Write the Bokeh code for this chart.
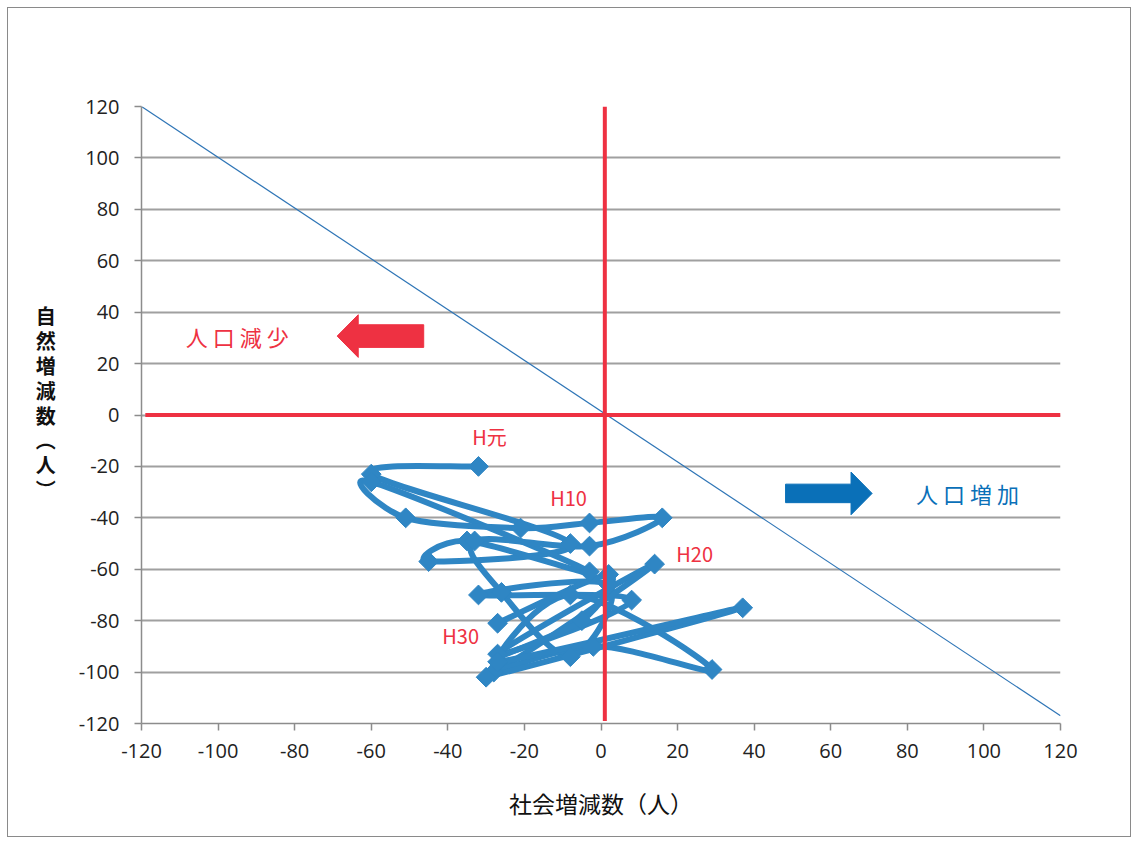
from bokeh.plotting import figure
from bokeh.models import FixedTicker, ColumnDataSource, InlineStyleSheet
from bokeh.core.properties import value
from bokeh.embed import file_html
from bokeh.resources import INLINE

# ---- data ----
years = ["H元"] + ["H%d" % i for i in range(2, 31)]
social = [-32, -60, -8, -45, -35, -3, -60, -51, -21, -3,
          16, -3, -33, -26, -8, 2, -32, 8, -27, 14,
          -28, -8, 29, -2, -30, 37, -27, -5, 2, -27]
natural = [-20, -23, -50, -57, -49, -61, -26, -40, -44, -42,
           -40, -51, -49, -69, -94, -66, -70, -72, -93, -58,
           -100, -70, -99, -90, -102, -75, -96, -80, -62, -81]
labelled_years = ["H元", "H10", "H20", "H30"]
ticks = list(range(-120, 121, 20))
tick_labels = {t: str(t) for t in ticks}
balance_x = [-120, 120]
balance_y = [120, -117]
x_title = "社会増減数（人）"
y_title = "自\n然\n増\n減\n数\n︵\n人\n︶\n　"

JP = "Noto Sans CJK JP"
BLUE = "#2F86C4"
RED = "#EE3142"
DARK_BLUE = "#0A70B8"
W, H = 1136, 842

p = figure(width=W, height=H, x_range=(-120, 120), y_range=(-120, 120),
           output_backend="svg", toolbar_location=None,
           min_border_left=141, min_border_right=W - 1060,
           min_border_top=106, min_border_bottom=H - 723)
p.stylesheets = [InlineStyleSheet(css=(
    ":host { position: relative; }"
    ":host::after { content: ''; position: absolute; left: 7px; top: 7px;"
    " right: 5px; bottom: 5px; border: 1px solid #8a8a8a;"
    " pointer-events: none; z-index: 100; }"))]
p.outline_line_color = None
p.background_fill_color = "white"
p.border_fill_color = "white"

for ax in (p.xaxis[0], p.yaxis[0]):
    ax.ticker = FixedTicker(ticks=ticks)
    ax.major_label_overrides = tick_labels
    ax.axis_line_color = "#8c8c8c"
    ax.axis_line_width = 1.5
    ax.major_tick_line_color = "#8c8c8c"
    ax.major_tick_line_width = 1.5
    ax.major_tick_in = 0
    ax.major_tick_out = 7
    ax.minor_tick_line_color = None
    ax.major_label_text_font = "Open Sans"
    ax.major_label_text_font_size = "20px"
    ax.major_label_text_color = "#222222"
    ax.axis_label_text_font = JP
    ax.axis_label_text_color = "#111111"
p.xaxis.major_label_standoff = 13
p.yaxis.major_label_standoff = 15

p.xaxis.axis_label = x_title
p.xaxis.axis_label_text_font_size = "23px"
p.xaxis.axis_label_text_font_style = "normal"
p.xaxis.axis_label_standoff = 25

p.yaxis.axis_label = y_title
p.yaxis.axis_label_orientation = "horizontal"
p.yaxis.axis_label_text_font_size = "20px"
p.yaxis.axis_label_text_font_style = "bold"
p.yaxis.axis_label_text_line_height = 0.86
p.yaxis.axis_label_standoff = 20

p.xgrid.grid_line_color = None
p.ygrid.grid_line_color = "#a0a0a0"
p.ygrid.grid_line_width = 2

# balance line (natural + social = 0)
p.line(balance_x, balance_y, line_color="#2E75B6", line_width=1.2)

# smoothed series (Excel-like smooth line)
n = len(social)
bx0, by0, bx1, by1, cx0, cy0, cx1, cy1 = ([] for _ in range(8))
for i in range(n - 1):
    pm = i - 1 if i > 0 else i
    pp = i + 2 if i + 2 < n else i + 1
    bx0.append(social[i]); by0.append(natural[i])
    bx1.append(social[i + 1]); by1.append(natural[i + 1])
    cx0.append(social[i] + (social[i + 1] - social[pm]) / 6)
    cy0.append(natural[i] + (natural[i + 1] - natural[pm]) / 6)
    cx1.append(social[i + 1] - (social[pp] - social[i]) / 6)
    cy1.append(natural[i + 1] - (natural[pp] - natural[i]) / 6)
p.bezier(x0=bx0, y0=by0, x1=bx1, y1=by1, cx0=cx0, cy0=cy0, cx1=cx1, cy1=cy1,
         line_color=BLUE, line_width=6)
p.scatter(social, natural, marker="square", angle=0.785398, size=14,
          fill_color=BLUE, line_color=BLUE)

# red axes through origin
p.line([-119, 120], [0, 0], line_color=RED, line_width=4)
p.line([1, 1], [-119, 120], line_color=RED, line_width=4)

# year labels
offsets = {"H元": (11, -30), "H10": (-21, -25), "H20": (40, -11), "H30": (-37, 12)}
lx, ly, lt, ox, oy = [], [], [], [], []
for yname in labelled_years:
    k = years.index(yname)
    lx.append(social[k]); ly.append(natural[k]); lt.append(yname)
    ox.append(offsets[yname][0]); oy.append(offsets[yname][1])
src = ColumnDataSource(dict(x=lx, y=ly, t=lt, ox=ox, oy=oy))
p.text(x="x", y="y", text="t", x_offset="ox", y_offset="oy", source=src,
       text_color=RED, text_font=value(JP), text_font_size="20px",
       text_align="center", text_baseline="middle")

# arrows
yc = 30.7
p.patch([-46.3, -63.4, -63.4, -68.9, -63.4, -63.4, -46.3],
        [yc + 4.4, yc + 4.4, yc + 8.3, yc, yc - 8.3, yc - 4.4, yc - 4.4],
        fill_color=RED, line_color=RED)
yb = -30.5
p.patch([48.2, 65.3, 65.3, 70.8, 65.3, 65.3, 48.2],
        [yb + 3.6, yb + 3.6, yb + 8.3, yb, yb - 8.3, yb - 3.6, yb - 3.6],
        fill_color=DARK_BLUE, line_color=DARK_BLUE)

# arrow captions, letter-spaced like the reference
def spaced(cx, cy, s, color):
    offs = [(i - (len(s) - 1) / 2) * 27 for i in range(len(s))]
    p.text(x=[cx] * len(s), y=[cy] * len(s), text=list(s), x_offset=offs,
           text_color=color, text_font=value(JP), text_font_size="22px",
           text_align="center", text_baseline="middle")

spaced(-95, 30.7, "人口減少", RED)
spaced(95.7, -30.3, "人口増加", DARK_BLUE)

open("out.html", "w").write(file_html(p, INLINE))
